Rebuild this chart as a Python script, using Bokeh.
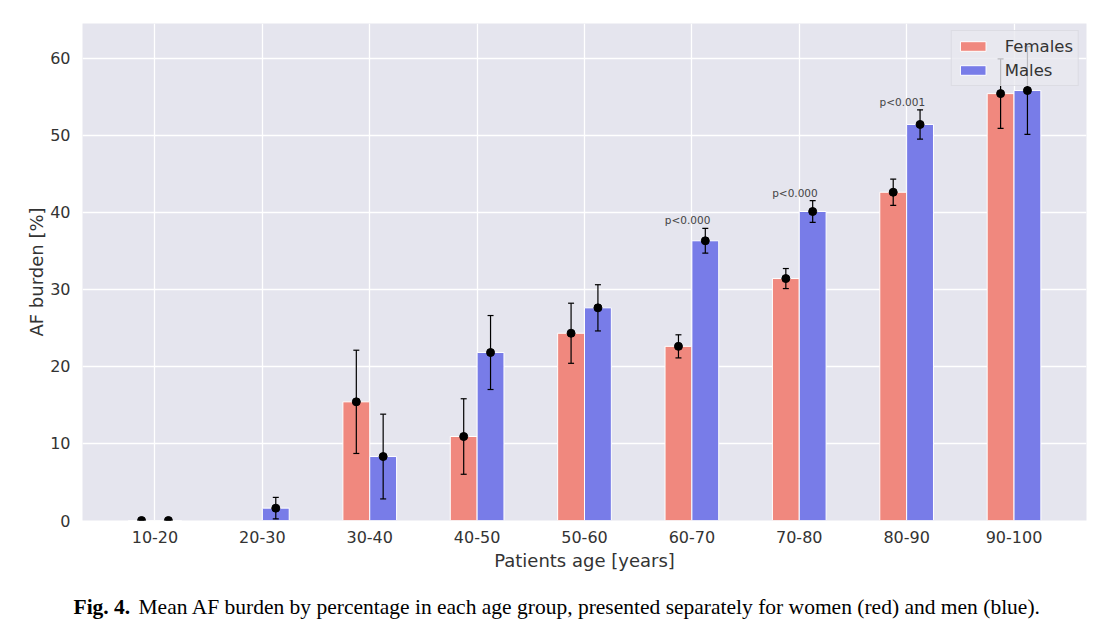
import numpy as np
from bokeh.plotting import figure
from bokeh.layouts import column, row
from bokeh.models import (Range1d, FixedTicker, ColumnDataSource, Whisker, TeeHead,
                          Label, Legend, LegendItem)
from bokeh.embed import file_html
from bokeh.resources import INLINE
from bokeh.core.properties import value

age_groups = ["10-20", "20-30", "30-40", "40-50", "50-60", "60-70", "70-80", "80-90", "90-100"]
females = [0.0, np.nan, 15.4, 10.9, 24.3, 22.6, 31.4, 42.6, 55.4]
females_err = [0.0, np.nan, 6.7, 4.9, 3.9, 1.5, 1.3, 1.7, 4.5]
males = [0.0, 1.6, 8.3, 21.8, 27.6, 36.3, 40.1, 51.4, 55.8]
males_err = [0.0, 1.4, 5.5, 4.8, 3.0, 1.6, 1.4, 1.9, 5.7]
p_labels = ["", "", "", "", "", "p<0.000", "p<0.000", "p<0.001", ""]
y_ticks = [0, 10, 20, 30, 40, 50, 60]
caption_bold = "Fig. 4."
caption_text = ("Mean AF burden by percentage in each age group, presented separately "
                "for women (red) and men (blue).")

FONT = "DejaVu Sans"
F_COLOR = "#F0887E"
M_COLOR = "#787CE8"
BAR_W = 0.25
W = 1102
FL, FR = 82, 16  # frame borders (px)

idx = np.arange(len(age_groups), dtype=float)
f = np.array(females, dtype=float)
fe = np.array(females_err, dtype=float)
m = np.array(males, dtype=float)
me = np.array(males_err, dtype=float)

p = figure(width=W, height=573, output_backend="svg", toolbar_location=None,
           x_range=Range1d(-0.675, len(age_groups) - 1 + 0.675), y_range=Range1d(0, 64.5),
           min_border_left=FL, min_border_right=FR, min_border_top=23, min_border_bottom=52)
p.background_fill_color = "#E5E5EE"
p.border_fill_color = "white"
p.outline_line_color = None

src_f = ColumnDataSource(dict(x=idx - BAR_W / 2, y=f, lo=f - fe, hi=f + fe))
src_m = ColumnDataSource(dict(x=idx + BAR_W / 2, y=m, lo=m - me, hi=m + me))

rf = p.vbar(x="x", top="y", width=BAR_W, source=src_f, fill_color=F_COLOR,
            line_color="white", line_width=1)
rm = p.vbar(x="x", top="y", width=BAR_W, source=src_m, fill_color=M_COLOR,
            line_color="white", line_width=1)

for src in (src_f, src_m):
    w = Whisker(base="x", lower="lo", upper="hi", source=src, dimension="height",
                line_color="black", line_width=1.2, level="glyph",
                lower_head=TeeHead(size=6, line_color="black", line_width=1.2),
                upper_head=TeeHead(size=6, line_color="black", line_width=1.2))
    p.add_layout(w)
    p.scatter(x="x", y="y", source=src, size=8, color="black")

# significance annotations above male error bars
src_p = ColumnDataSource(dict(x=idx - 0.04, y=m + me, t=p_labels))
p.text(x="x", y="y", text="t", source=src_p, text_font=value(FONT), text_font_size="10.5px",
       text_color="#444444", text_align="center", text_baseline="bottom", y_offset=-2)

# axes
p.xaxis.ticker = FixedTicker(ticks=list(idx))
p.xaxis.major_label_overrides = {int(i): g for i, g in enumerate(age_groups)}
p.yaxis.ticker = FixedTicker(ticks=y_ticks)
for ax in (p.xaxis, p.yaxis):
    ax.axis_line_color = None
    ax.major_tick_line_color = None
    ax.minor_tick_line_color = None
    ax.major_label_text_font = FONT
    ax.major_label_text_font_size = "16px"
    ax.major_label_text_color = "#333333"
    ax.axis_label_text_font = FONT
    ax.axis_label_text_font_size = "18px"
    ax.axis_label_text_font_style = "normal"
    ax.axis_label_text_color = "#333333"
p.xaxis.major_label_standoff = 4
p.yaxis.major_label_standoff = 6
p.xaxis.axis_label = "Patients age [years]"
p.yaxis.axis_label = "AF burden [%]"
p.xaxis.axis_label_standoff = 4
p.yaxis.axis_label_standoff = 0

p.xgrid.grid_line_color = "white"
p.ygrid.grid_line_color = "white"
p.xgrid.grid_line_width = 1.3
p.ygrid.grid_line_width = 1.3

legend = Legend(items=[LegendItem(label="Females", renderers=[rf]),
                       LegendItem(label="Males", renderers=[rm])],
                location="top_right", margin=7, padding=5, spacing=4,
                glyph_width=32, glyph_height=12, label_height=20, label_standoff=16,
                label_text_font=FONT, label_text_font_size="16.5px", label_text_color="#333333",
                background_fill_color="#E8E8EF", background_fill_alpha=0.8,
                border_line_color="#CFCFD8", border_line_width=1)
p.add_layout(legend)

# caption strip below the chart; x range in page pixels
cap = figure(width=W, height=53, output_backend="svg", toolbar_location=None,
             x_range=Range1d(0, W), y_range=Range1d(0, 53),
             min_border=0, x_axis_type=None, y_axis_type=None)
cap.outline_line_color = None
cap.grid.visible = False
cap.background_fill_color = "white"
cap.border_fill_color = "white"
cap.add_layout(Label(x=73, y=20, text=caption_bold,
                     text_font="Liberation Serif", text_font_size="21.5px",
                     text_font_style="bold", text_color="black", text_baseline="middle"))
cap.add_layout(Label(x=138, y=20, text=caption_text,
                     text_font="Liberation Serif", text_font_size="21.5px",
                     text_color="black", text_baseline="middle"))

layout = column(row(p), row(cap), spacing=0)
open("out.html", "w").write(file_html(layout, INLINE))
